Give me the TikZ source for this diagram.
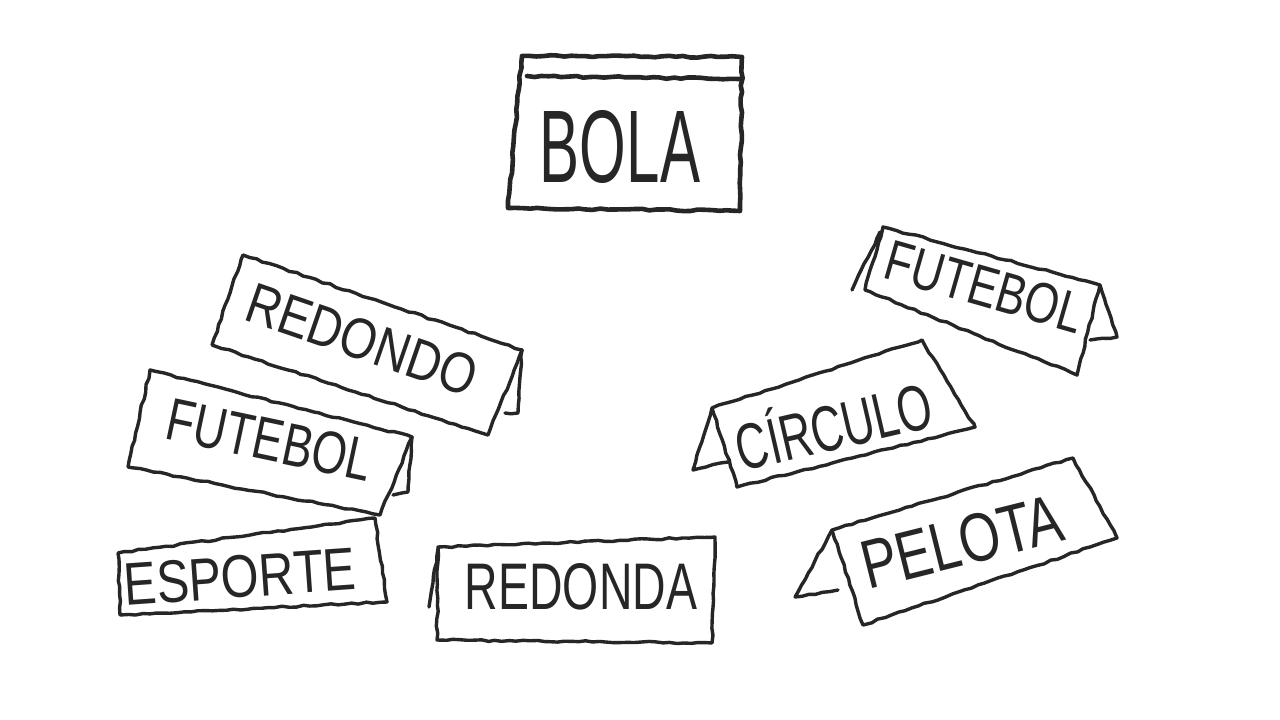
\documentclass[tikz,border=0pt]{standalone}
\usepackage{fontspec}
\setmainfont{Liberation Sans}
\usepackage{graphicx}
\usetikzlibrary{decorations.pathmorphing}
\newcommand{\handtxt}[3]{\resizebox{#1pt}{#2pt}{#3}}
\begin{document}
\begin{tikzpicture}[x=1pt,y=-1pt,
  card/.style={draw=black!85, line width=3.4pt, line join=round, line cap=round,
    decorate, decoration={random steps,segment length=7pt,amplitude=0.9pt}},
  bigcard/.style={card, line width=4.6pt},
  word/.style={inner sep=0pt, text=black!85}]
\pgfmathsetseed{7}
\fill[white] (0,0) rectangle (1280,720);
\useasboundingbox (0,0) rectangle (1280,720);

% BOLA
\draw[bigcard] (522,56) -- (742,57) -- (740,211) -- (508,208) -- cycle;
\draw[bigcard] (527,76) -- (740,79);
\node[word] (tbola) at (620,147) {\handtxt{160}{72}{BOLA}};

% REDONDO
\draw[card] (243,255) -- (522,350) -- (488,435) -- (212,345) -- cycle;
\draw[card] (522,350) -- (518,413) -- (505,413);
\node[word, rotate=-19] (tredondo) at (362,340) {\handtxt{240}{40}{REDONDO}};

% FUTEBOL left
\draw[card] (150,370) -- (412,437) -- (380,515) -- (128,467) -- cycle;
\draw[card] (412,437) -- (408,492) -- (393,495);
\node[word, rotate=-12] (tfutebolL) at (270,440) {\handtxt{208}{42}{FUTEBOL}};

% ESPORTE
\draw[card] (118,553) -- (375,518) -- (387,602) -- (120,615) -- cycle;
\node[word, rotate=4] (tesporte) at (240,577) {\handtxt{232}{42}{ESPORTE}};

% REDONDA
\draw[card] (438,547) -- (715,537) -- (712,643) -- (437,640) -- cycle;
\draw[card] (438,549) -- (429,607);
\node[word] (tredonda) at (581,587) {\handtxt{232}{46}{REDONDA}};

% CIRCULO
\draw[card] (712,408) -- (922,340) -- (975,427) -- (737,487) -- cycle;
\draw[card] (712,408) -- (693,470) -- (728,462);
\node[word, rotate=13] (tcirculo) at (833,422) {\handtxt{200}{56}{CÍRCULO}};

% FUTEBOL right
\draw[card] (883,227) -- (1100,285) -- (1077,375) -- (865,290) -- cycle;
\draw[card] (1100,285) -- (1117,337) -- (1090,340);
\draw[card] (880,232) -- (852,290);
\node[word, rotate=-16] (tfutebolR) at (985,287) {\handtxt{203}{40}{FUTEBOL}};

% PELOTA
\draw[card] (832,530) -- (1073,458) -- (1117,538) -- (863,625) -- cycle;
\draw[card] (832,530) -- (795,597) -- (838,590);
\node[word, rotate=14] (tpelota) at (962,542) {\handtxt{205}{48}{PELOTA}};
\end{tikzpicture}
\end{document}
